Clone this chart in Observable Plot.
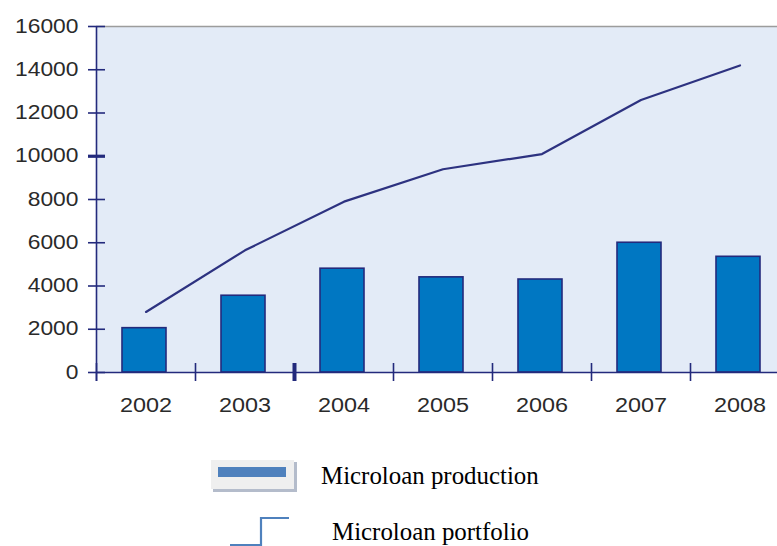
<!DOCTYPE html>
<html>
<head>
<meta charset="utf-8">
<script src="https://cdn.jsdelivr.net/npm/d3@7"></script>
<script src="https://cdn.jsdelivr.net/npm/@observablehq/plot@0.6"></script>
<style>
  html, body { margin: 0; padding: 0; background: #ffffff; }
  body { width: 777px; height: 546px; position: relative; overflow: hidden; }
  #chart { position: absolute; left: 0; top: 0; }
  #chart svg { overflow: visible; }
  #legend { position: absolute; left: 0; top: 440px; }
</style>
</head>
<body>
<div id="chart"></div>
<svg id="legend" width="777" height="106" xmlns="http://www.w3.org/2000/svg"></svg>
<script>
const years = [2002, 2003, 2004, 2005, 2006, 2007, 2008];
const production = [2050, 3550, 4800, 4400, 4300, 6000, 5350];
const portfolio = [2800, 5650, 7900, 9400, 10100, 12600, 14200];
const yTicks = [0, 2000, 4000, 6000, 8000, 10000, 12000, 14000, 16000];
const seriesLabels = ["Microloan production", "Microloan portfolio"];

const data = years.map((year, i) => ({year, production: production[i], portfolio: portfolio[i]}));

const navy = "#232a7c";
const labelColor = "#2a2a2a";

const chart = Plot.plot({
  width: 777,
  height: 440,
  marginLeft: 96,
  marginRight: 0,
  marginTop: 26,
  marginBottom: 68,
  style: {fontFamily: "'Liberation Sans', Arial, sans-serif", fontSize: "19.5px", background: "transparent"},
  x: {type: "band", domain: years, range: [96, 789], padding: 0, label: null},
  y: {domain: [0, 16000], label: null},
  marks: [
    Plot.frame({fill: "#e3ebf7", stroke: "none"}),
    Plot.ruleY([yTicks[yTicks.length - 1]], {stroke: "#9c9c9c", strokeWidth: 1.6}),
    Plot.barY(data, {x: "year", y: "production", fill: "#0077c2", stroke: navy, strokeWidth: 1.6, insetLeft: 26, insetRight: 29}),
    Plot.line(data, {x: "year", y: "portfolio", stroke: "#2d3280", strokeWidth: 2.2}),
    Plot.ruleY([0], {stroke: navy, strokeWidth: 1.6}),
    Plot.tickX([years[0]], {x: d => d, dx: -49.5, insetBottom: -9, stroke: navy, strokeWidth: 1.6}),
    Plot.tickX(years, {x: d => d, dx: -49.5, insetTop: 328, dy: 9, stroke: navy, strokeWidth: d => d === 2004 ? 4 : 1.6}),
    Plot.tickY(yTicks, {y: d => d, insetRight: 664, dx: -8, stroke: navy, strokeWidth: d => d === 10000 ? 3.2 : 1.6}),
    Plot.axisY(yTicks, {tickSize: 0, tickPadding: 18, fill: labelColor, tickFormat: d => String(d), label: null}),
    Plot.axisX({tickSize: 0, tickPadding: 26, fill: labelColor, tickFormat: d => String(d), label: null})
  ]
});
document.getElementById("chart").appendChild(chart);

// widen the axis digits horizontally, as in the reference
function stretch(selector, s) {
  d3.select(chart).selectAll(selector).each(function() {
    const t = this.getAttribute("transform") || "";
    this.setAttribute("transform", `${t} scale(${s},1)`);
  });
}
stretch('g[aria-label="y-axis tick label"] text', 1.17);
stretch('g[aria-label="x-axis tick label"] text', 1.2);

// Legend below the chart
const serif = "'Liberation Serif', 'Times New Roman', serif";
const lg = d3.select("#legend");
lg.append("rect").attr("x", 213).attr("y", 22).attr("width", 84).attr("height", 30).attr("fill", "#b4bccb");
lg.append("rect").attr("x", 211).attr("y", 20).attr("width", 83).attr("height", 29).attr("fill", "#efefef");
lg.append("rect").attr("x", 218).attr("y", 27).attr("width", 68).attr("height", 10).attr("fill", "#4f81bd");
lg.append("text").attr("x", 321).attr("y", 44)
  .attr("font-family", serif).attr("font-size", 24.9).attr("fill", "#000")
  .text(seriesLabels[0]);
lg.append("path").attr("d", "M230,105H261V78H289").attr("fill", "none").attr("stroke", "#4f81bd").attr("stroke-width", 2.2);
lg.append("text").attr("x", 332).attr("y", 100)
  .attr("font-family", serif).attr("font-size", 24.9).attr("fill", "#000")
  .text(seriesLabels[1]);
</script>
</body>
</html>
